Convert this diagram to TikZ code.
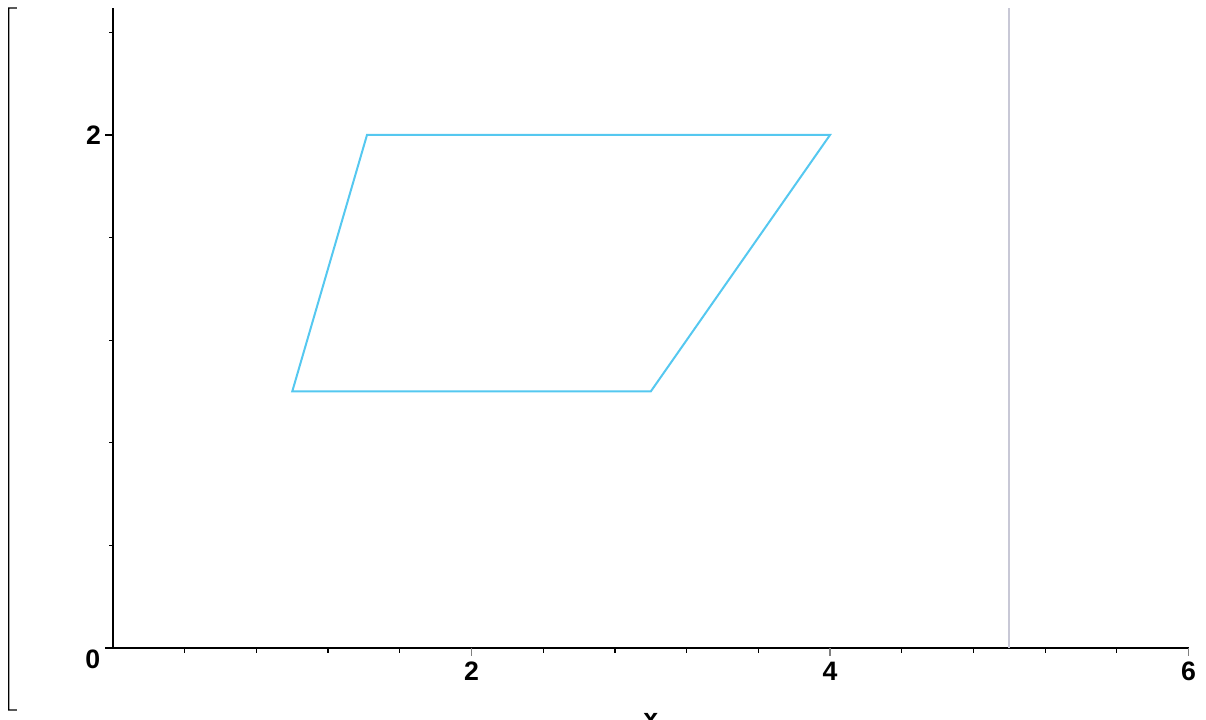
\documentclass[tikz,border=0pt]{standalone}
\usepackage{fontspec}
\setmainfont{Liberation Sans}
\usepackage{tikz}
\usetikzlibrary{arrows.meta,positioning,calc}
\usepackage{xcolor}
\definecolor{shapeCyan}{HTML}{55C8F0}
\definecolor{lineGrey}{HTML}{C8C8D6}
\definecolor{tickGrey}{HTML}{808080}

\begin{document}
\begin{tikzpicture}[x=134.4375pt, y=192.375pt,
    ticklabel/.style={font=\bfseries\fontsize{20}{20}\selectfont, inner sep=0pt},
    axisline/.style={line width=1.1pt, black}]
    \useasboundingbox (-0.6304,-0.2807) rectangle (6.0977,2.5263);
    % left bracket
    \draw[line width=0.9pt] (-0.5365,2.4951) -- ++(-0.0446,0) -- (-0.5811,-0.2417) -- ++(0.0446,0);
    % axes
    \draw[axisline] (-0.0446,0) -- (6,0);
    \draw[axisline] (0,0) -- (0,2.4951);
    % minor ticks
    \foreach \t in {0.4,0.8,1.2,1.6,2.4,2.8,3.2,3.6,4.4,4.8,5.2,5.6}
      \draw[line width=0.9pt] (\t,0) -- ++(0,-0.018);
    \foreach \t in {0.4,0.8,1.2,1.6,2.4}
      \draw[line width=0.9pt] (0,\t) -- ++(-0.025,0);
    % major ticks
    \foreach \t in {2,4,6}
      \draw[line width=1.1pt, tickGrey] (\t,0) -- ++(0,-0.03);
    \draw[line width=0.9pt] (0,2) -- ++(-0.045,0);
    % tick labels
    \node[ticklabel, anchor=north east] (l0) at (-0.07,-0.0078) {0};
    \node[ticklabel, anchor=east] (ly2) at (-0.065,2) {2};
    \foreach \t in {2,4,6}
      \node[ticklabel, anchor=north] (lx\t) at (\t,-0.0546) {\t};
    \node[ticklabel, anchor=north] (xlab) at (3.0,-0.2534) {x};
    % vertical line at x=5
    \draw[line width=1.3pt, lineGrey] (5,0) -- (5,2.4951);
    % parallelogram
    \coordinate (p1) at (1,1);
    \coordinate (p2) at (3,1);
    \coordinate (p3) at (4,2);
    \coordinate (p4) at (1.417,2);
    \draw[line width=1.5pt, shapeCyan] (p1) -- (p2) -- (p3) -- (p4) -- cycle;
\end{tikzpicture}
\end{document}
